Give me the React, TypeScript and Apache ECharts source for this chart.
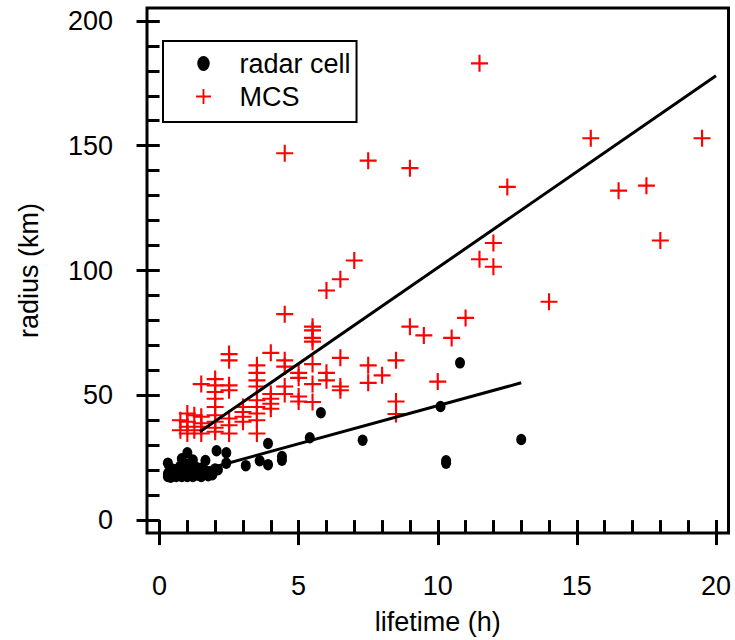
import React, { useEffect, useRef } from "react";
import * as echarts from "echarts";

const seriesNames = ["radar cell", "MCS"];

const radarCell: [number, number][] = [
  [10.8, 63], [5.8, 43], [10.1, 45.5], [5.4, 33], [7.3, 32], [13, 32.3],
  [10.3, 23.8], [10.3, 22.8], [4.4, 25.5], [4.4, 24], [3.9, 30.7], [3.9, 22.2],
  [3.6, 23.8], [3.1, 21.8], [2.4, 27], [2.05, 27.8], [1.0, 27], [2.4, 22.8],
  [1.65, 23.9], [1.2, 24.1], [0.8, 24.6], [0.3, 22.8], [2.0, 20.5], [1.9, 18.2],
  [0.3, 17.5], [0.3, 18.5], [0.35, 19.5], [0.4, 17.2], [0.45, 20.5], [0.5, 18],
  [0.55, 19], [0.6, 17.5], [0.65, 20.5], [0.7, 18.5], [0.75, 21.5], [0.8, 17.5],
  [0.85, 19.5], [0.9, 18], [0.95, 21], [1.0, 17.5], [1.0, 19.5], [1.05, 22.5],
  [1.1, 18.5], [1.15, 20.5], [1.2, 17.5], [1.3, 19], [1.35, 21], [1.4, 18],
  [1.5, 17.5], [1.5, 19.5], [1.55, 21], [1.6, 18.5], [1.7, 19.5], [1.75, 17.8],
  [1.85, 19.5], [2.1, 20.2],
];

const mcs: [number, number][] = [
  [11.5, 183], [15.5, 153], [19.5, 153], [4.5, 147], [7.5, 144], [9, 141],
  [12.5, 133.5], [16.5, 132], [17.5, 134], [18, 112], [12, 111], [11.5, 104.5],
  [12, 101.5], [14, 87.5], [7, 104], [6.5, 96.5], [6, 92], [4.5, 82.5],
  [11, 81], [9, 77.5], [9.5, 74], [10.5, 73], [10, 55.5], [8.5, 64],
  [8, 58], [7.5, 62], [7.5, 55], [8.5, 47.5], [8.5, 42.5],
  [5.5, 77.5], [5.5, 76], [5.5, 73], [5.5, 71.5], [6.5, 65], [4.5, 64],
  [4.5, 61.5], [5.5, 62.5], [5, 59], [5, 57], [6, 59], [6, 56], [5.5, 54.5],
  [6.5, 53.5], [6.5, 52], [4.5, 53.5], [4.5, 50.5], [5, 49.5], [5, 47.5], [5.5, 47.3],
  [4, 67], [2.5, 66.5], [2.5, 64], [3.5, 62], [3.5, 59], [3.5, 56], [3.5, 53.5],
  [1.5, 54.5], [2, 56.5], [2, 54], [2, 51.3], [2, 48.6], [2, 45.3], [2.5, 54],
  [2.5, 52], [4, 50.5], [4, 48.6], [4, 46.6], [4, 44.6], [3, 45.3], [3, 43.3],
  [3, 41.4], [3, 39.4], [3.5, 48], [3.5, 45.3], [3.5, 42.7], [3.5, 40], [3.5, 34.7],
  [1, 42.7], [1, 39.4], [1, 37.4], [1, 34.7], [1.5, 41.4], [1.5, 38.8], [1.5, 37.4],
  [1.5, 34.7], [2.5, 40.7], [2.5, 38], [2.5, 34.7], [2, 42], [2, 39.4], [2, 37],
  [2, 35.4], [0.75, 40], [0.75, 36], [1.25, 42], [1.25, 36],
];

const radarFit: [number, number][] = [[1.8, 20.8], [13, 55]];
const mcsFit: [number, number][] = [[1.45, 35.4], [20, 178]];

const xMajorTicks = [0, 5, 10, 15, 20];
const xMinorTicks = [0, 1, 2, 3, 4, 5, 6, 7, 8, 9, 10, 11, 12, 13, 14, 15, 16, 17, 18, 19, 20];
const yMajorTicks = [0, 50, 100, 150, 200];
const yMinorTicks = [0, 10, 20, 30, 40, 50, 60, 70, 80, 90, 100, 110, 120, 130, 140, 150, 160, 170, 180, 190, 200];

const FONT = "'Liberation Sans', Arial, Helvetica, sans-serif";
const PLUS = "path://M7,0H9V7H16V9H9V16H7V9H0V7H7Z";
const DOT = "path://M0,6A5,6 0 1,0 10,6A5,6 0 1,0 0,6Z";

export default function App() {
  const ref = useRef<HTMLDivElement>(null);
  useEffect(() => {
    if (!ref.current) return;
    const chart = echarts.init(ref.current, undefined, { renderer: "svg" });
    const xRange = { min: -0.45, max: 20.45 };
    const yRange = { min: -5.17, max: 205.17 };
    const tickStyle = { color: "#000", width: 3 };
    chart.setOption({
      animation: false,
      backgroundColor: "#fff",
      grid: {
        left: 147, top: 8, right: 6.5, bottom: 103,
        show: true, borderColor: "#000", borderWidth: 3,
      },
      legend: {
        orient: "vertical",
        left: 163, top: 41,
        data: seriesNames,
        itemWidth: 62, itemHeight: 15, itemGap: 6,
        padding: [9, 6, 12, 33],
        borderColor: "#000", borderWidth: 2,
        textStyle: { fontSize: 27, color: "#000", fontFamily: FONT },
      },
      xAxis: [
        {
          type: "value", ...xRange, position: "bottom",
          name: "lifetime (h)", nameLocation: "middle", nameGap: 75,
          nameTextStyle: { fontSize: 27, color: "#000", fontFamily: FONT },
          axisLine: { show: false },
          axisTick: { show: true, customValues: xMajorTicks, length: 25, lineStyle: tickStyle },
          axisLabel: { customValues: xMajorTicks, fontSize: 27, color: "#000", margin: 39, fontFamily: FONT },
          splitLine: { show: false },
        },
        {
          type: "value", ...xRange, position: "bottom",
          axisLine: { show: false },
          axisTick: { show: true, customValues: xMinorTicks, length: 12, lineStyle: tickStyle },
          axisLabel: { show: false },
          splitLine: { show: false },
        },
      ],
      yAxis: [
        {
          type: "value", ...yRange, position: "left",
          name: "radius (km)", nameLocation: "middle", nameGap: 105,
          nameTextStyle: { fontSize: 27, color: "#000", fontFamily: FONT },
          axisLine: { show: false },
          axisTick: { show: true, customValues: yMajorTicks, length: 23, lineStyle: tickStyle },
          axisLabel: { customValues: yMajorTicks, fontSize: 27, color: "#000", margin: 34, fontFamily: FONT },
          splitLine: { show: false },
        },
        {
          type: "value", ...yRange, position: "left",
          axisLine: { show: false },
          axisTick: { show: true, customValues: yMinorTicks, length: 12, lineStyle: tickStyle },
          axisLabel: { show: false },
          splitLine: { show: false },
        },
      ],
      series: [
        {
          name: seriesNames[0], type: "scatter", data: radarCell,
          symbol: DOT, symbolSize: [10, 11.5],
          itemStyle: { color: "#000", opacity: 1 },
        },
        {
          name: seriesNames[1], type: "scatter", data: mcs,
          symbol: PLUS, symbolSize: 17,
          itemStyle: { color: "#ff0000", opacity: 1 },
        },
        {
          type: "line", data: radarFit, symbol: "none",
          lineStyle: { color: "#000", width: 3 }, z: 5,
        },
        {
          type: "line", data: mcsFit, symbol: "none",
          lineStyle: { color: "#000", width: 3 }, z: 5,
        },
      ],
    });
    return () => chart.dispose();
  }, []);
  return (
    <div
      ref={ref}
      style={{ position: "fixed", left: 0, top: 0, width: 735, height: 640, background: "#fff" }}
    />
  );
}
